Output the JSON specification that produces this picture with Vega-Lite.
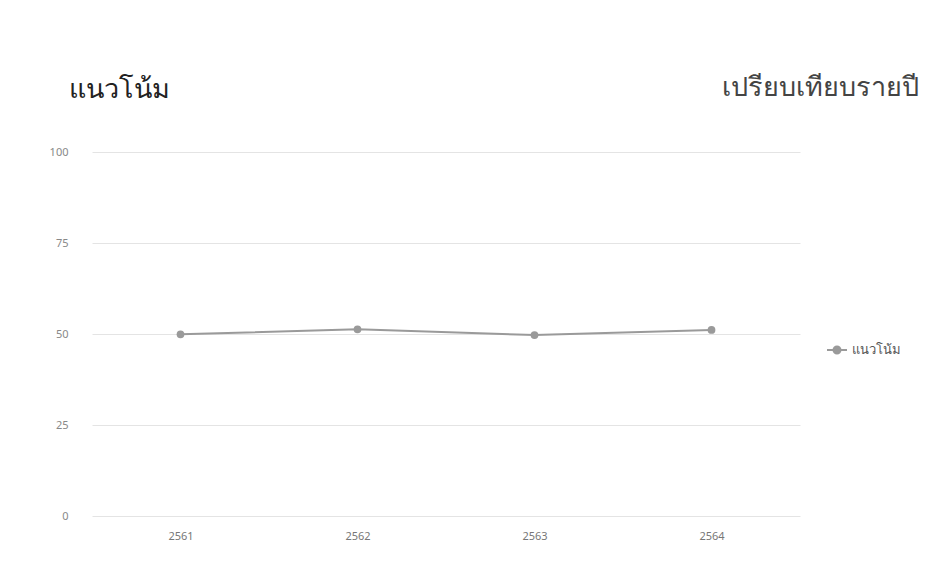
{
  "$schema": "https://vega.github.io/schema/vega-lite/v6.json",
  "autosize": "none",
  "width": 708,
  "height": 364,
  "padding": {"left": 92, "top": 152, "right": 147, "bottom": 53},
  "background": "#ffffff",
  "config": {
    "font": "Noto Sans",
    "view": {"stroke": null}
  },
  "data": {
    "values": [
      {"year": "2561", "series": "แนวโน้ม", "value": 49.9},
      {"year": "2562", "series": "แนวโน้ม", "value": 51.3},
      {"year": "2563", "series": "แนวโน้ม", "value": 49.7},
      {"year": "2564", "series": "แนวโน้ม", "value": 51.1}
    ]
  },
  "mark": {"type": "line", "strokeWidth": 2, "point": {"filled": true, "size": 60}},
  "encoding": {
    "x": {
      "field": "year",
      "type": "ordinal",
      "scale": {"type": "point", "padding": 0.5},
      "axis": {
        "title": "เปรียบเทียบรายปี",
        "titleAlign": "right",
        "titleBaseline": "middle",
        "titleAnchor": null,
        "titleX": 826,
        "titleY": -429,
        "titleFontSize": 27,
        "titleFontWeight": 400,
        "titleColor": "#444444",
        "labelAngle": 0,
        "domain": false,
        "ticks": false,
        "grid": false,
        "labelPadding": 14,
        "labelFontSize": 11,
        "labelColor": "#777777"
      }
    },
    "y": {
      "field": "value",
      "type": "quantitative",
      "scale": {"domain": [0, 100]},
      "axis": {
        "title": "แนวโน้ม",
        "titleAngle": 0,
        "titleAlign": "left",
        "titleBaseline": "middle",
        "titleX": -24,
        "titleY": -63,
        "titleFontSize": 27,
        "titleFontWeight": 400,
        "titleColor": "#222222",
        "values": [0, 25, 50, 75, 100],
        "domain": false,
        "ticks": false,
        "labelPadding": 24,
        "labelFontSize": 11,
        "labelColor": "#888888",
        "gridColor": "#e4e4e4"
      }
    },
    "color": {
      "field": "series",
      "type": "nominal",
      "scale": {"range": ["#9a9a9a"]},
      "legend": {
        "title": null,
        "orient": "none",
        "legendX": 734,
        "legendY": 187,
        "symbolType": "M-1,0L1,0M-0.35,0A0.35,0.35 0 1,1 0.35,0A0.35,0.35 0 1,1 -0.35,0Z",
        "symbolSize": 400,
        "symbolStrokeWidth": 2,
        "labelFontSize": 13,
        "labelColor": "#555555"
      }
    }
  }
}
